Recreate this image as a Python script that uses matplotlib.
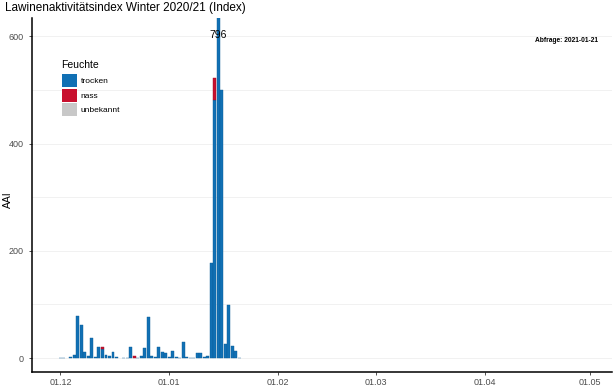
import matplotlib
matplotlib.use("Agg")
import matplotlib.pyplot as plt
import matplotlib.dates as mdates
from matplotlib.patches import Patch
import numpy as np
import pandas as pd

plt.rcParams['font.family'] = ['Liberation Sans', 'DejaVu Sans']

# ---- data ----
start_date = "2020-12-01"
trocken = [1, 1, 0, 2, 5, 79, 62, 11, 3, 37, 2, 20, 17, 5, 4, 12, 2, 0, 1, 1,
           20, 0, 1, 4, 19, 77, 3, 2, 20, 12, 10, 2, 13, 2, 1, 30, 2, 0.5, 1, 10,
           10, 2, 4, 178, 482, 796, 500, 27, 99, 23, 14, 1]
nass = [0, 0, 0, 0, 0, 0, 0, 0, 0, 0, 0, 0, 3, 0, 0, 0, 0, 0, 0, 0,
        0, 4, 0, 0, 0, 0, 0, 0, 0, 0, 0, 0, 0, 0, 0, 0, 0, 0, 0, 0,
        0, 0, 0, 0, 40, 0, 0, 0, 0, 0, 0, 0]
unbekannt = [0] * len(trocken)
dates = pd.date_range(start_date, periods=len(trocken), freq="D")

tick_dates = ["2020-12-01", "2021-01-01", "2021-02-01", "2021-03-01", "2021-04-01", "2021-05-01"]
tick_labels = ["01.12", "01.01", "01.02", "01.03", "01.04", "01.05"]
y_ticks = [0, 200, 400, 600]
max_label = "796"
title = "Lawinenaktivitätsindex Winter 2020/21 (Index)"
query_note = "Abfrage: 2021-01-21"

c_trocken = "#1170b4"
c_nass = "#c8102e"
c_unb = "#c8c8c8"

W, H = 616, 387
fig = plt.figure(figsize=(W / 100, H / 100), dpi=100)
ax = fig.add_axes([32 / W, (H - 372) / H, (612 - 32) / W, (372 - 18) / H])

x = mdates.date2num(dates)
t = np.array(trocken, float)
n = np.array(nass, float)
u = np.array(unbekannt, float)
bw = 0.85
mt, mn, mu = t > 0, n > 0, u > 0
ax.bar(x[mt], t[mt], width=bw, color=c_trocken, edgecolor="#0b5d99", linewidth=0.3, zorder=3)
ax.bar(x[mn], n[mn], width=bw, bottom=t[mn], color=c_nass, edgecolor="#9c0c24", linewidth=0.3, zorder=3)
ax.bar(x[mu], u[mu], width=bw, bottom=(t + n)[mu], color=c_unb, linewidth=0, zorder=3)

imax = int(np.argmax(t + n + u))
ax.text(x[imax], 602, max_label, ha="center", va="center", fontsize=7.5, color="black", zorder=4)

ax.set_ylim(-26, 634)
x0 = mdates.date2num(pd.Timestamp("2020-12-01")) - 8.1
x1 = mdates.date2num(pd.Timestamp("2021-05-01")) + 6.3
ax.set_xlim(x0, x1)

ax.set_yticks(y_ticks)
ax.set_yticks([100, 300, 500], minor=True)
ax.set_xticks(mdates.date2num(pd.to_datetime(tick_dates)))
ax.set_xticklabels(tick_labels)
ax.tick_params(axis="both", labelsize=6.5, labelcolor="#4d4d4d", color="#333333", length=2.5, width=0.6)
ax.tick_params(axis="x", pad=1.5)
ax.tick_params(axis="y", which="minor", length=0)
ax.grid(axis="y", which="both", color="#efefef", linewidth=0.6, zorder=0)
ax.set_axisbelow(True)
for s in ["top", "right"]:
    ax.spines[s].set_visible(False)
for s in ["left", "bottom"]:
    ax.spines[s].set_linewidth(1.1)
    ax.spines[s].set_color("black")

ax.set_ylabel("AAI", fontsize=7.5)
ax.yaxis.set_label_coords(-(32 - 13) / (612 - 32), (372 - 200) / (372 - 18))
fig.text(5 / W, 1 - 8 / H, title, ha="left", va="center", fontsize=8.5)
fig.text(598 / W, 1 - 41 / H, query_note, ha="right", va="center", fontsize=4.8, fontweight="bold")

handles = [Patch(facecolor=c_trocken, edgecolor="none"),
           Patch(facecolor=c_nass, edgecolor="none"),
           Patch(facecolor=c_unb, edgecolor="none")]
leg = fig.legend(handles, ["trocken", "nass", "unbekannt"], title="Feuchte",
                 loc="upper left", bbox_to_anchor=(54 / W, 1 - 53 / H),
                 frameon=False, fontsize=6, title_fontsize=7.5,
                 handlelength=1.9, handleheight=2.0, labelspacing=0.22,
                 handletextpad=0.4, alignment="left")
leg._legend_box.sep = 2.5

fig.savefig("out.png", dpi=100)
